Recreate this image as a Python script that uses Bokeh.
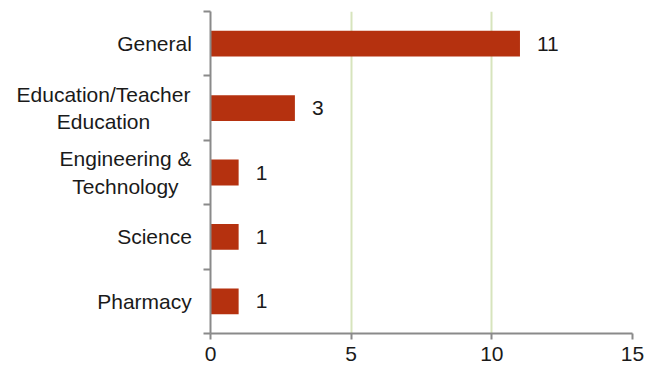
from bokeh.plotting import figure
from bokeh.layouts import row
from bokeh.embed import file_html
from bokeh.resources import INLINE
from bokeh.models import Range1d, FixedTicker, ColumnDataSource
from bokeh.core.properties import value

categories = ["General", "Education/Teacher\nEducation", "Engineering &\nTechnology", "Science", "Pharmacy"]
counts = [11, 3, 1, 1, 1]
x_ticks = [0, 5, 10, 15]

# layout: horizontal centre (px) of each category label block in the label strip
label_centers_px = [154, 103, 125, 154, 144]

FONT = "Liberation Sans"
FS = "21px"
TXT = "#1a1a1a"
AX = "#8a8a8a"
STRIP_W = 200
FRAME_H = 322
TOP = 11

n = len(categories)
ypos = [n - i - 0.5 for i in range(n)]

src = ColumnDataSource(dict(y=ypos, v=counts, lab=[str(c) for c in counts]))
lsrc = ColumnDataSource(dict(y=ypos, x=label_centers_px, t=categories))

# label strip on the left
q = figure(frame_width=STRIP_W, frame_height=FRAME_H, output_backend="svg", toolbar_location=None,
           x_range=Range1d(0, STRIP_W), y_range=Range1d(0, n),
           min_border_left=0, min_border_right=0, min_border_top=TOP, min_border_bottom=0)
q.axis.visible = False
q.grid.visible = False
q.outline_line_color = None
q.text(x="x", y="y", text="t", source=lsrc, text_align="center", text_baseline="middle",
       text_font=value(FONT), text_font_size=FS, text_color=TXT, text_line_height=1.2)

p = figure(frame_width=422, frame_height=FRAME_H, output_backend="svg", toolbar_location=None,
           x_range=Range1d(0, 15), y_range=Range1d(0, n),
           min_border_left=10, min_border_right=14, min_border_top=TOP, min_border_bottom=20)
p.outline_line_color = None
p.background_fill_color = "white"
p.border_fill_color = "white"

p.hbar(y="y", right="v", left=0, height=0.4, source=src, fill_color="#b5310f", line_color=None)
p.text(x="v", y="y", text="lab", source=src, x_offset=17, text_baseline="middle", text_align="left",
       text_font=value(FONT), text_font_size=FS, text_color=TXT)

p.xaxis.ticker = FixedTicker(ticks=x_ticks)
p.xaxis.axis_line_color = AX
p.xaxis.axis_line_width = 2
p.xaxis.major_tick_line_color = AX
p.xaxis.major_tick_line_width = 2
p.xaxis.major_tick_out = 6
p.xaxis.major_tick_in = 0
p.xaxis.minor_tick_line_color = None
p.xaxis.major_label_text_font = FONT
p.xaxis.major_label_text_font_size = FS
p.xaxis.major_label_text_color = TXT
p.xaxis.major_label_standoff = 7

p.yaxis.ticker = FixedTicker(ticks=[], minor_ticks=list(range(n + 1)))
p.yaxis.axis_line_color = AX
p.yaxis.axis_line_width = 2
p.yaxis.major_tick_line_color = None
p.yaxis.minor_tick_line_color = AX
p.yaxis.minor_tick_line_width = 2
p.yaxis.minor_tick_out = 7
p.yaxis.minor_tick_in = 0
p.yaxis.major_label_text_font_size = "0px"
p.yaxis.major_label_standoff = 0

p.xgrid.ticker = FixedTicker(ticks=[5, 10, 15])
p.xgrid.grid_line_color = "#d7e4bd"
p.xgrid.grid_line_width = 2
p.ygrid.grid_line_color = None

layout = row(q, p)
open("out.html", "w").write(file_html(layout, INLINE))
